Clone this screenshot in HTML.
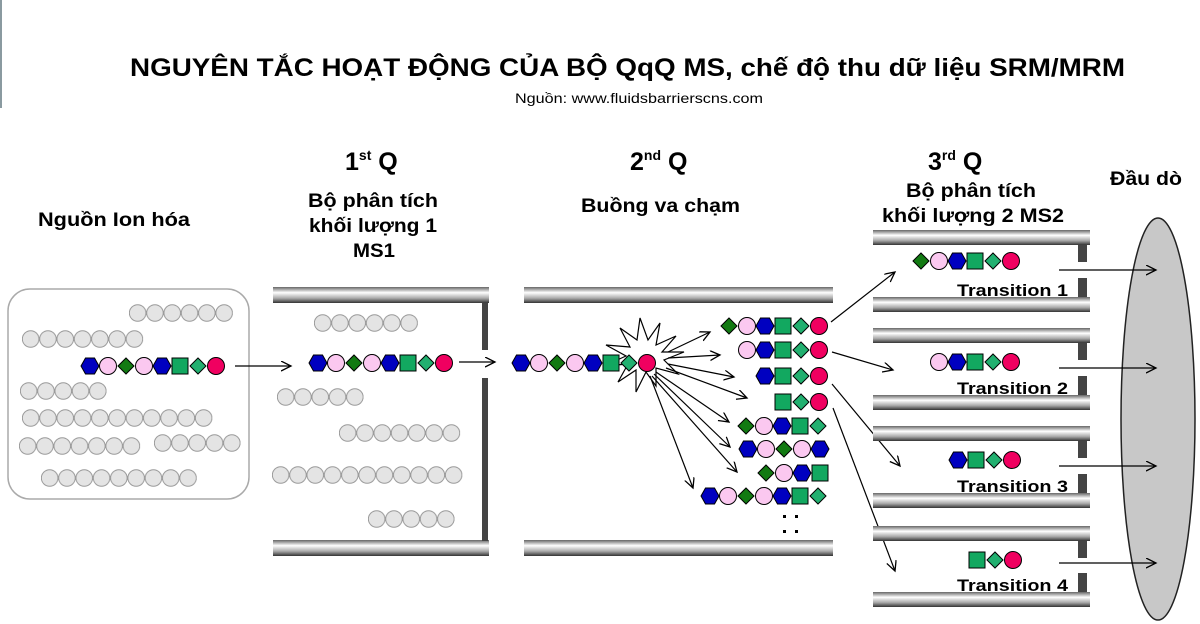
<!DOCTYPE html>
<html><head><meta charset="utf-8"><style>
html,body{margin:0;padding:0;background:#fff;width:1200px;height:624px;overflow:hidden}
svg{display:block}
text{font-family:"Liberation Sans","DejaVu Sans",sans-serif;font-weight:bold;fill:#000}
</style></head><body>
<svg width="1200" height="624" viewBox="0 0 1200 624" xmlns="http://www.w3.org/2000/svg">
<defs>
<linearGradient id="rod" x1="0" y1="0" x2="0" y2="1">
<stop offset="0" stop-color="#666"/><stop offset="0.35" stop-color="#fff"/><stop offset="0.7" stop-color="#aaa"/><stop offset="1" stop-color="#333"/>
</linearGradient>
<pattern id="gp" patternUnits="userSpaceOnUse" width="17.3" height="18"><circle cx="8.65" cy="9" r="8.3" fill="#e4e4e4" stroke="#999" stroke-width="1"/></pattern>
<marker id="ah" markerWidth="12" markerHeight="12" refX="10" refY="5" orient="auto" markerUnits="userSpaceOnUse"><path d="M0,0 L10,5 L0,10" fill="none" stroke="#000" stroke-width="1.3"/></marker>
<g id="H"><polygon points="-9,0 -4.5,-8 4.5,-8 9,0 4.5,8 -4.5,8" fill="#0000c0" stroke="#000" stroke-width="1"/></g>
<g id="P"><circle r="8.5" fill="#fbc8f0" stroke="#000" stroke-width="1"/></g>
<g id="D"><polygon points="-8,0 0,-8 8,0 0,8" fill="#127a12" stroke="#000" stroke-width="1"/></g>
<g id="S"><rect x="-8" y="-8" width="16" height="16" fill="#12a860" stroke="#000" stroke-width="1"/></g>
<g id="d"><polygon points="-8,0 0,-8 8,0 0,8" fill="#22b070" stroke="#000" stroke-width="1"/></g>
<g id="R"><circle r="8.5" fill="#f00060" stroke="#000" stroke-width="1"/></g>
</defs>

<rect x="0" y="0" width="2" height="108" fill="#8a9aa0"/>

<text x="130" y="76" font-size="25" textLength="995" lengthAdjust="spacingAndGlyphs">NGUYÊN TẮC HOẠT ĐỘNG CỦA BỘ QqQ MS, chế độ thu dữ liệu SRM/MRM</text>
<text x="515" y="103" font-size="14" style="font-weight:normal" textLength="248" lengthAdjust="spacingAndGlyphs">Nguồn: www.fluidsbarrierscns.com</text>

<text x="345" y="170" font-size="25">1<tspan font-size="14" dy="-10">st</tspan><tspan dy="10"> Q</tspan></text>
<text x="630" y="170" font-size="25">2<tspan font-size="14" dy="-10">nd</tspan><tspan dy="10"> Q</tspan></text>
<text x="928" y="170" font-size="25">3<tspan font-size="14" dy="-10">rd</tspan><tspan dy="10"> Q</tspan></text>

<text x="38" y="226" font-size="19" textLength="152" lengthAdjust="spacingAndGlyphs">Nguồn Ion hóa</text>
<text x="308" y="207" font-size="19" textLength="130" lengthAdjust="spacingAndGlyphs">Bộ phân tích</text>
<text x="309" y="232" font-size="19" textLength="128" lengthAdjust="spacingAndGlyphs">khối lượng 1</text>
<text x="353" y="257" font-size="19" textLength="42" lengthAdjust="spacingAndGlyphs">MS1</text>
<text x="581" y="212" font-size="19" textLength="159" lengthAdjust="spacingAndGlyphs">Buồng va chạm</text>
<text x="906" y="197" font-size="19" textLength="130" lengthAdjust="spacingAndGlyphs">Bộ phân tích</text>
<text x="882" y="222" font-size="19" textLength="182" lengthAdjust="spacingAndGlyphs">khối lượng 2 MS2</text>
<text x="1110" y="185" font-size="19" textLength="72" lengthAdjust="spacingAndGlyphs">Đầu dò</text>

<!-- Ion source box -->
<rect x="8" y="289" width="241" height="210" rx="22" fill="#fff" stroke="#aaa" stroke-width="1.5"/>
<g transform="translate(129,304)"><rect width="103.8" height="18" fill="url(#gp)"/></g>
<g transform="translate(22,330)"><rect width="121.1" height="18" fill="url(#gp)"/></g>
<g transform="translate(20,382)"><rect width="86.5" height="18" fill="url(#gp)"/></g>
<g transform="translate(22,409)"><rect width="190.3" height="18" fill="url(#gp)"/></g>
<g transform="translate(19,437)"><rect width="121.1" height="18" fill="url(#gp)"/></g>
<g transform="translate(154,434)"><rect width="86.5" height="18" fill="url(#gp)"/></g>
<g transform="translate(41,469)"><rect width="155.7" height="18" fill="url(#gp)"/></g>
<g transform="translate(90,366)"><use href="#H" x="0"/><use href="#P" x="18"/><use href="#D" x="36"/><use href="#P" x="54"/><use href="#H" x="72"/><use href="#S" x="90"/><use href="#d" x="108"/><use href="#R" x="126"/></g>
<line x1="235" y1="366" x2="291" y2="366" stroke="#000" stroke-width="1.3" marker-end="url(#ah)"/>

<!-- Q1 -->
<rect x="273" y="287" width="216" height="16" fill="url(#rod)"/>
<rect x="273" y="540" width="216" height="16" fill="url(#rod)"/>
<rect x="482" y="303" width="6" height="47" fill="#444"/>
<rect x="482" y="378" width="6" height="163" fill="#444"/>
<g transform="translate(314,314)"><rect width="103.8" height="18" fill="url(#gp)"/></g>
<g transform="translate(277,388)"><rect width="86.5" height="18" fill="url(#gp)"/></g>
<g transform="translate(339,424)"><rect width="121.1" height="18" fill="url(#gp)"/></g>
<g transform="translate(272,466)"><rect width="190.3" height="18" fill="url(#gp)"/></g>
<g transform="translate(368,510)"><rect width="86.5" height="18" fill="url(#gp)"/></g>
<g transform="translate(318,363)"><use href="#H" x="0"/><use href="#P" x="18"/><use href="#D" x="36"/><use href="#P" x="54"/><use href="#H" x="72"/><use href="#S" x="90"/><use href="#d" x="108"/><use href="#R" x="126"/></g>
<line x1="459" y1="362" x2="495" y2="362" stroke="#000" stroke-width="1.3" marker-end="url(#ah)"/>

<!-- Q2 -->
<rect x="524" y="287" width="309" height="16" fill="url(#rod)"/>
<rect x="524" y="540" width="309" height="16" fill="url(#rod)"/>
<polygon points="684,352 662,352 676,336 656,345 660,323 648,340 640,318 637,340 620,328 630,347 606,345 626,356 604,366 628,364 618,382 636,370 636,392 646,372 656,386 656,368 678,374 664,360" fill="#fff" stroke="#000" stroke-width="1.2"/>
<g transform="translate(521,363)"><use href="#H" x="0"/><use href="#P" x="18"/><use href="#D" x="36"/><use href="#P" x="54"/><use href="#H" x="72"/><use href="#S" x="90"/><use href="#d" x="108"/><use href="#R" x="126"/></g>
<g stroke="#000" stroke-width="1.2" marker-end="url(#ah)">
<line x1="668" y1="352" x2="710" y2="332"/>
<line x1="668" y1="358" x2="720" y2="355"/>
<line x1="668" y1="364" x2="734" y2="377"/>
<line x1="666" y1="368" x2="747" y2="398"/>
<line x1="656" y1="372" x2="729" y2="422"/>
<line x1="654" y1="374" x2="730" y2="447"/>
<line x1="652" y1="376" x2="737" y2="472"/>
<line x1="650" y1="376" x2="693" y2="488"/>
</g>
<g transform="translate(729,326)"><use href="#D" x="0"/><use href="#P" x="18"/><use href="#H" x="36"/><use href="#S" x="54"/><use href="#d" x="72"/><use href="#R" x="90"/></g>
<g transform="translate(747,350)"><use href="#P" x="0"/><use href="#H" x="18"/><use href="#S" x="36"/><use href="#d" x="54"/><use href="#R" x="72"/></g>
<g transform="translate(765,376)"><use href="#H" x="0"/><use href="#S" x="18"/><use href="#d" x="36"/><use href="#R" x="54"/></g>
<g transform="translate(783,402)"><use href="#S" x="0"/><use href="#d" x="18"/><use href="#R" x="36"/></g>
<g transform="translate(746,426)"><use href="#D" x="0"/><use href="#P" x="18"/><use href="#H" x="36"/><use href="#S" x="54"/><use href="#d" x="72"/></g>
<g transform="translate(748,449)"><use href="#H" x="0"/><use href="#P" x="18"/><use href="#D" x="36"/><use href="#P" x="54"/><use href="#H" x="72"/></g>
<g transform="translate(766,473)"><use href="#D" x="0"/><use href="#P" x="18"/><use href="#H" x="36"/><use href="#S" x="54"/></g>
<g transform="translate(710,496)"><use href="#H" x="0"/><use href="#P" x="18"/><use href="#D" x="36"/><use href="#P" x="54"/><use href="#H" x="72"/><use href="#S" x="90"/><use href="#d" x="108"/></g>
<g fill="#000"><rect x="783" y="515" width="3" height="3"/><rect x="783" y="530" width="3" height="3"/><rect x="795" y="515" width="3" height="3"/><rect x="795" y="530" width="3" height="3"/></g>

<!-- arrows Q2 -> Q3 -->
<g stroke="#000" stroke-width="1.2" marker-end="url(#ah)">
<line x1="831" y1="322" x2="895" y2="272"/>
<line x1="832" y1="352" x2="893" y2="370"/>
<line x1="832" y1="384" x2="900" y2="466"/>
<line x1="833" y1="408" x2="895" y2="571"/>
</g>

<!-- Detector -->
<ellipse cx="1158" cy="419" rx="37" ry="201" fill="#c8c8c8" stroke="#222" stroke-width="1.5"/>

<!-- Q3 channels -->
<g>
<rect x="873" y="230" width="217" height="15" fill="url(#rod)"/>
<rect x="873" y="297" width="217" height="15" fill="url(#rod)"/>
<rect x="1078" y="245" width="9" height="17" fill="#444"/><rect x="1078" y="278" width="9" height="19" fill="#444"/>
<rect x="873" y="328" width="217" height="15" fill="url(#rod)"/>
<rect x="873" y="395" width="217" height="15" fill="url(#rod)"/>
<rect x="1078" y="343" width="9" height="17" fill="#444"/><rect x="1078" y="376" width="9" height="19" fill="#444"/>
<rect x="873" y="426" width="217" height="15" fill="url(#rod)"/>
<rect x="873" y="493" width="217" height="15" fill="url(#rod)"/>
<rect x="1078" y="441" width="9" height="17" fill="#444"/><rect x="1078" y="474" width="9" height="19" fill="#444"/>
<rect x="873" y="526" width="217" height="15" fill="url(#rod)"/>
<rect x="873" y="592" width="217" height="15" fill="url(#rod)"/>
<rect x="1078" y="541" width="9" height="17" fill="#444"/><rect x="1078" y="573" width="9" height="19" fill="#444"/>
</g>
<g transform="translate(921,261)"><use href="#D" x="0"/><use href="#P" x="18"/><use href="#H" x="36"/><use href="#S" x="54"/><use href="#d" x="72"/><use href="#R" x="90"/></g>
<g transform="translate(939,362)"><use href="#P" x="0"/><use href="#H" x="18"/><use href="#S" x="36"/><use href="#d" x="54"/><use href="#R" x="72"/></g>
<g transform="translate(958,460)"><use href="#H" x="0"/><use href="#S" x="18"/><use href="#d" x="36"/><use href="#R" x="54"/></g>
<g transform="translate(977,560)"><use href="#S" x="0"/><use href="#d" x="18"/><use href="#R" x="36"/></g>
<text x="957" y="296" font-size="17" textLength="111" lengthAdjust="spacingAndGlyphs">Transition 1</text>
<text x="957" y="394" font-size="17" textLength="111" lengthAdjust="spacingAndGlyphs">Transition 2</text>
<text x="957" y="492" font-size="17" textLength="111" lengthAdjust="spacingAndGlyphs">Transition 3</text>
<text x="957" y="591" font-size="17" textLength="111" lengthAdjust="spacingAndGlyphs">Transition 4</text>
<g stroke="#000" stroke-width="1.3" marker-end="url(#ah)">
<line x1="1059" y1="270" x2="1156" y2="270"/>
<line x1="1059" y1="368" x2="1156" y2="368"/>
<line x1="1059" y1="466" x2="1156" y2="466"/>
<line x1="1059" y1="563" x2="1156" y2="563"/>
</g>
</svg>
</body></html>
